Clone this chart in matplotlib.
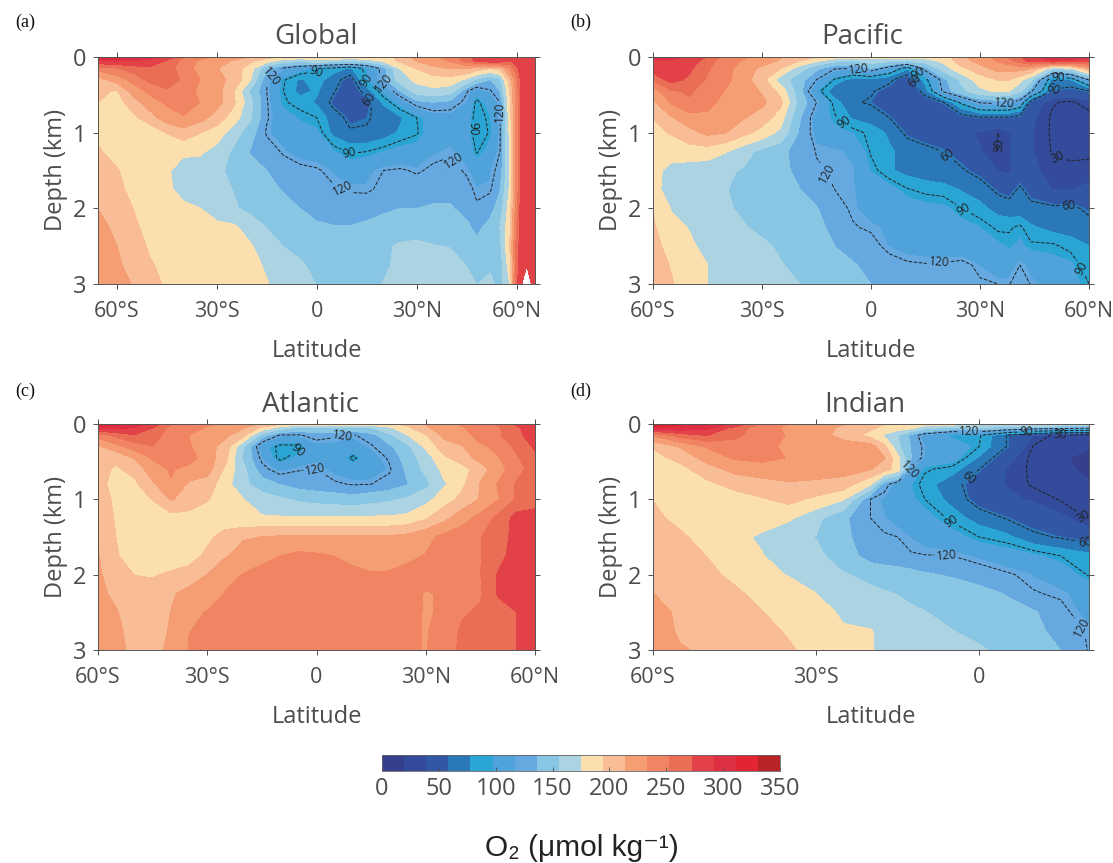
import matplotlib
matplotlib.use("Agg")
import matplotlib.pyplot as plt
import numpy as np
from matplotlib.colors import BoundaryNorm, ListedColormap
from matplotlib.cm import ScalarMappable

nan = np.nan
W, H = 1113, 863
GREY = "#4d4d4d"

depth = [0, 0.05, 0.15, 0.3, 0.45, 0.6, 0.8, 1, 1.25, 1.5, 1.75, 2, 2.25, 2.5, 2.75, 3]

lat_global = [-66, -60, -55, -50, -45, -40, -35, -30, -25, -20, -15, -10, -5, 0, 5, 10, 15, 20, 25, 30, 35, 40,
              45, 48, 52, 55, 58, 60, 61.5, 63, 64.5, 66]
o2_global = [
    [330, 320, 310, 298, 285, 255, 238, 232, 225, 212, 200, 190, 186, 186, 186, 186, 186, 186, 200, 220, 230, 240, 265, 280, 285, 285, 285, 285, 285, 285, 285, 285],
    [290, 292, 290, 285, 270, 245, 230, 222, 212, 198, 185, 165, 160, 168, 165, 160, 165, 178, 198, 215, 225, 235, 260, 275, 285, 285, 270, 285, 285, 285, 285, 285],
    [240, 250, 262, 268, 260, 245, 225, 215, 205, 185, 138, 118, 105, 92, 85, 75, 95, 128, 175, 195, 208, 215, 215, 205, 195, 200, 235, 265, 285, 285, 285, 285],
    [205, 222, 240, 258, 262, 250, 233, 218, 210, 176, 122, 92, 75, 85, 68, 50, 95, 128, 165, 180, 186, 186, 170, 150, 135, 150, 205, 245, 280, 290, 290, 290],
    [200, 192, 222, 238, 250, 245, 228, 222, 196, 152, 120, 90, 72, 80, 62, 45, 68, 100, 135, 165, 170, 165, 122, 105, 118, 135, 195, 240, 280, 290, 290, 290],
    [195, 185, 205, 225, 236, 240, 233, 222, 198, 162, 122, 92, 85, 75, 55, 45, 52, 80, 103, 130, 135, 130, 115, 85, 105, 120, 190, 240, 280, 290, 290, 290],
    [190, 180, 190, 205, 225, 232, 222, 205, 185, 158, 122, 105, 95, 90, 68, 55, 58, 66, 75, 90, 108, 110, 108, 80, 95, 120, 185, 240, 280, 288, 288, 288],
    [190, 180, 180, 182, 195, 205, 195, 185, 165, 145, 118, 110, 105, 100, 72, 62, 62, 68, 80, 88, 108, 112, 105, 78, 92, 118, 180, 240, 280, 285, 285, 285],
    [198, 185, 180, 180, 180, 178, 178, 168, 152, 135, 128, 118, 110, 108, 98, 88, 90, 97, 103, 105, 115, 118, 110, 88, 105, 120, 178, 240, 280, 285, 285, 285],
    [205, 196, 185, 180, 177, 168, 165, 160, 150, 142, 136, 128, 125, 122, 115, 108, 113, 120, 122, 118, 123, 125, 118, 110, 115, 125, 176, 240, 280, 285, 285, 285],
    [210, 200, 188, 182, 178, 170, 165, 160, 155, 146, 140, 135, 130, 126, 122, 119, 118, 123, 128, 128, 130, 130, 125, 117, 118, 135, 178, 240, 280, 285, 285, 285],
    [214, 205, 194, 186, 182, 178, 175, 165, 158, 150, 145, 140, 136, 132, 128, 125, 128, 133, 136, 136, 138, 138, 130, 122, 128, 145, 185, 245, 285, 285, 285, 285],
    [220, 210, 198, 188, 184, 182, 181, 180, 178, 167, 155, 148, 142, 138, 137, 137, 140, 143, 145, 150, 150, 148, 140, 130, 143, 155, 190, 250, 285, 285, 285, 285],
    [225, 214, 202, 192, 188, 186, 185, 184, 182, 177, 165, 155, 150, 145, 142, 142, 145, 152, 158, 158, 156, 155, 150, 142, 150, 150, 195, 260, 285, 285, 285, 285],
    [230, 218, 205, 196, 190, 187, 186, 185, 184, 182, 172, 164, 158, 150, 146, 146, 150, 152, 160, 160, 160, 160, 155, 148, 152, 145, 185, 260, 285, 285, 285, 285],
    [232, 224, 212, 200, 192, 188, 186, 186, 185, 184, 176, 168, 162, 155, 150, 148, 152, 156, 160, 165, 168, 162, 160, 155, 160, 150, 175, 270, 285, nan, 285, 285],
]

lat_pacific = [-60, -55, -50, -45, -40, -35, -30, -25, -20, -15, -10, -5, 0, 5, 10, 15, 20, 25, 30, 35, 38, 41, 44, 50, 55, 60]
o2_pacific = [
    [295, 295, 290, 270, 245, 235, 225, 215, 205, 195, 186, 182, 182, 182, 182, 182, 185, 210, 225, 240, 255, 270, 290, 300, 300, 295],
    [290, 290, 285, 262, 240, 232, 222, 212, 195, 178, 160, 155, 165, 160, 155, 165, 180, 205, 222, 235, 245, 262, 278, 290, 285, 280],
    [285, 290, 276, 255, 240, 222, 210, 195, 165, 140, 122, 120, 135, 110, 80, 130, 165, 190, 205, 222, 222, 222, 215, 160, 170, 215],
    [255, 280, 268, 250, 238, 222, 200, 165, 145, 120, 88, 70, 72, 65, 45, 85, 130, 160, 185, 195, 195, 180, 160, 70, 78, 122],
    [222, 250, 255, 245, 232, 222, 212, 188, 145, 98, 65, 60, 62, 52, 36, 70, 125, 150, 170, 178, 175, 160, 125, 58, 50, 60],
    [210, 235, 250, 238, 228, 222, 218, 200, 150, 120, 85, 62, 58, 46, 44, 47, 60, 95, 122, 125, 122, 110, 50, 31, 28, 35],
    [195, 212, 225, 230, 222, 215, 205, 185, 140, 110, 92, 75, 70, 60, 45, 42, 42, 52, 58, 58, 58, 52, 42, 28, 24, 26],
    [188, 196, 208, 218, 214, 200, 187, 170, 135, 112, 102, 96, 86, 75, 55, 48, 42, 42, 37, 30, 38, 42, 40, 28, 28, 28],
    [180, 182, 185, 185, 176, 162, 150, 142, 128, 119.5, 118, 115, 88, 80, 72, 66, 60, 50, 40, 29, 38, 44, 40, 29, 28, 28],
    [180, 170, 166, 163, 158, 154, 148, 141, 132, 121, 119, 117, 96, 80, 72, 68, 64, 62, 52, 38, 36, 47, 42, 34, 32, 33],
    [180, 168, 160, 158, 156, 152, 146, 142, 137, 126, 120, 117, 112, 103, 91, 86, 84, 76, 70, 55, 52, 63, 52, 38, 38, 42],
    [193, 174, 168, 160, 158, 152, 148, 143, 139, 137, 125, 118, 112, 108, 105, 102, 100, 90, 82, 72, 68, 65, 65, 64, 64, 56],
    [197, 180, 174, 165, 160, 157, 150, 148, 143, 140, 132, 121, 118, 115, 110, 108, 106, 103, 97, 87, 88, 93, 80, 72, 70, 66],
    [200, 188, 178, 170, 165, 162, 160, 152, 148, 142, 136, 128, 125, 116, 112, 110, 108, 105, 103, 100, 95, 100, 93, 93, 85, 78],
    [204, 193, 182, 175, 170, 165, 162, 157, 150, 148, 140, 138, 130, 126, 122, 121, 122, 125, 116, 106, 110, 120, 112, 102, 100, 80],
    [208, 196, 185, 175, 170, 165, 160, 158, 156, 150, 145, 140, 136, 130, 128, 128, 128, 126, 122, 120, 119, 132, 119, 112, 104, 90],
]

lat_atlantic = [-60, -55, -50, -45, -40, -35, -30, -25, -20, -15, -10, -5, 0, 5, 10, 15, 20, 25, 30, 35, 40, 45, 50, 55, 60]
o2_atlantic = [
    [335, 320, 302, 285, 255, 240, 235, 232, 225, 210, 195, 185, 183, 183, 183, 185, 190, 200, 215, 228, 235, 245, 255, 275, 285],
    [295, 295, 290, 272, 245, 238, 232, 226, 215, 190, 165, 150, 155, 155, 150, 155, 170, 190, 210, 225, 232, 240, 250, 270, 280],
    [240, 258, 270, 260, 245, 233, 226, 218, 198, 145, 118, 118, 126, 122, 118, 128, 150, 174, 192, 218, 226, 240, 250, 268, 280],
    [210, 226, 242, 252, 240, 235, 222, 205, 155, 105, 85, 86, 112, 112, 110, 118, 132, 150, 178, 205, 212, 230, 238, 258, 275],
    [195, 198, 215, 235, 245, 240, 225, 200, 150, 116, 84, 102, 114, 112, 85, 110, 122, 145, 165, 190, 205, 220, 232, 250, 268],
    [200, 192, 200, 225, 235, 228, 222, 190, 160, 125, 112, 119, 120, 113, 108, 108, 118, 140, 160, 180, 186, 205, 225, 245, 262],
    [200, 188, 190, 210, 232, 210, 205, 182, 160, 145, 135, 128, 125, 122, 119, 120, 125, 135, 150, 172, 190, 215, 235, 255, 262],
    [205, 190, 183, 195, 215, 208, 196, 182, 175, 165, 158, 152, 148, 146, 143, 148, 152, 158, 168, 185, 200, 215, 232, 255, 262],
    [208, 192, 178, 178, 186, 185, 180, 177, 177, 177, 177, 177, 178, 178, 178, 178, 178, 180, 192, 208, 225, 240, 258, 280, 282],
    [210, 194, 178, 178, 178, 182, 188, 205, 212, 214, 216, 216, 216, 216, 216, 216, 216, 220, 228, 238, 245, 252, 262, 280, 285],
    [215, 197, 179, 178, 178, 182, 200, 212, 222, 229, 233, 238, 236, 233, 228, 222, 222, 230, 234, 238, 245, 252, 265, 282, 285],
    [216, 206, 194, 192, 198, 206, 214, 228, 234, 238, 240, 240, 240, 240, 238, 235, 236, 238, 240, 240, 245, 252, 274, 282, 285],
    [218, 210, 202, 205, 212, 218, 226, 234, 238, 240, 240, 240, 240, 240, 240, 240, 240, 240, 232, 235, 238, 250, 275, 280, 285],
    [220, 215, 204, 205, 214, 230, 234, 238, 240, 240, 240, 240, 240, 240, 240, 240, 240, 238, 232, 235, 250, 256, 262, 272, 285],
    [222, 218, 207, 204, 216, 233, 236, 238, 240, 240, 240, 240, 240, 240, 240, 240, 240, 238, 232, 240, 256, 258, 260, 272, 285],
    [224, 220, 208, 205, 220, 234, 236, 238, 240, 240, 240, 240, 240, 240, 240, 240, 240, 238, 232, 245, 256, 258, 260, 272, 285],
]

lat_indian = [-60, -55, -50, -45, -40, -35, -30, -25, -20, -17.5, -15, -12.5, -10, -5, 0, 5, 10, 15, 20.2]
o2_indian = [
    [340, 315, 302, 288, 250, 232, 228, 215, 205, 195, 190, 186, 184, 182, 180, 178, 178, 178, 178],
    [300, 305, 295, 265, 240, 230, 222, 210, 198, 190, 185, 180, 160, 150, 150, 145, 135, 130, 125],
    [235, 260, 272, 258, 240, 232, 225, 205, 188, 172, 155, 130, 110, 92, 92, 60, 38, 25, 24],
    [196, 215, 235, 242, 238, 230, 228, 225, 222, 200, 160, 135, 116, 112, 90, 60, 29, 22, 20],
    [188, 200, 222, 235, 240, 232, 226, 224, 222, 215, 180, 135, 115, 105, 75, 45, 26, 20, 18],
    [186, 188, 205, 220, 222, 222, 222, 222, 215, 205, 185, 118, 92, 85, 60, 38, 27, 21, 18],
    [183, 183, 190, 200, 208, 212, 210, 205, 176, 126, 110, 97, 85, 66, 50, 38, 28, 22, 20],
    [194, 182, 182, 186, 192, 200, 190, 176, 120, 115, 108, 100, 90, 72, 50, 42, 37, 29, 24],
    [198, 190, 180, 180, 184, 178, 160, 140, 120, 117, 113, 110, 105, 86, 70, 59, 50, 42, 29],
    [206, 197, 188, 180, 172, 160, 155, 142, 122, 121, 120, 116, 112, 105, 90, 82, 64, 58, 50],
    [210, 200, 194, 186, 176, 165, 160, 146, 128, 124, 122, 121, 120.5, 120, 114, 108, 100, 90, 82],
    [212, 206, 198, 191, 180, 174, 165, 157, 150, 148, 146, 142, 138, 134, 128, 122, 116, 110, 88],
    [214, 208, 202, 197, 190, 182, 175, 166, 160, 157, 155, 152, 150, 146, 142, 135, 121, 118, 112],
    [222, 210, 204, 200, 195, 188, 182, 172, 166, 163, 160, 158, 156, 150, 146, 142, 138, 124, 112],
    [228, 210, 206, 202, 198, 193, 185, 177, 176, 170, 166, 164, 160, 156, 150, 146, 141, 130, 118],
    [232, 216, 210, 206, 202, 196, 190, 180, 176, 172, 170, 168, 166, 162, 158, 150, 142, 136, 119],
]

colours = ["#363f8e", "#344a9a", "#3258a5", "#2b78b8", "#2aa5d3", "#4fa3da", "#66a9e0", "#88c6e3", "#abd3e2",
           "#fbdfae", "#f8bd96", "#f59d73", "#f18563", "#e96e55", "#e24148", "#de2f44", "#e22533", "#b82328"]
levels = np.linspace(0, 350, 19)
cmap = ListedColormap(colours)
norm = BoundaryNorm(levels, cmap.N)
line_levels = [30, 60, 90, 120]

# where the contour labels sit, lat/depth
labels_global = [(-13, 0.29), (0, 0.27), (15, 0.3), (19.4, 0.38), (16, 0.55), (9.8, 1.27), (7.7, 1.74), (41, 1.37), (54, 0.73), (48, 0.95)]
labels_pacific = [(-3.3, 0.155), (13, 0.22), (12.2, 0.31), (36.5, 0.55), (51.4, 0.27), (49.5, 0.41), (-7.3, 0.86), (-12.9, 1.55),
                  (21.5, 1.27), (35, 1.17), (51.4, 1.33), (54.5, 2.03), (25.7, 1.99), (18.6, 2.65), (58, 2.79)]
labels_atlantic = [(7.3, 0.19), (-0.5, 0.51), (-4.7, 0.39)]
labels_indian = [(8.6, 0.09), (14.9, 0.14), (-1.8, 0.18), (-13.1, 0.59), (-1.9, 0.72), (-5.4, 1.33), (-6, 1.73), (19, 1.25), (19.3, 1.65), (18, 2.75)]

plt.rcParams["font.family"] = ["Open Sans", "DejaVu Sans"]
fig = plt.figure(figsize=(W / 100, H / 100), dpi=100)


def panel(box, lat, o2, title, title_x, letter, letter_y, xlim, xticks, xlabels, label_pos):
    left, top, right, bottom = box
    ax = fig.add_axes([left / W, 1 - bottom / H, (right - left) / W, (bottom - top) / H])
    z = np.array(o2, dtype=float)
    filled = ax.contourf(lat, depth, z, levels=levels, cmap=cmap, norm=norm)
    filled.set_edgecolor("face")
    filled.set_linewidth(0.3)
    lines = ax.contour(lat, depth, z, levels=line_levels, colors="#222222", linestyles="--", linewidths=0.7)
    ax.clabel(lines, fmt="%d", fontsize=8.5, inline=True, inline_spacing=2, manual=label_pos)
    ax.set_xlim(*xlim)
    ax.set_ylim(3, 0)
    ax.set_xticks(xticks, xlabels)
    ax.set_yticks([0, 1, 2, 3], ["0", "1", "2", "3"])
    ax.tick_params(direction="out", length=3.5, width=0.7, color=GREY, labelcolor=GREY, top=True, right=True)
    ax.tick_params(axis="x", pad=9, labelsize=15.5)
    ax.tick_params(axis="y", pad=5, labelsize=17)
    for s in ax.spines.values():
        s.set_linewidth(0.7)
        s.set_color("#555555")
    ax.set_xlabel("Latitude", fontsize=17, color=GREY, labelpad=12)
    ax.set_ylabel("Depth (km)", fontsize=17, color=GREY, labelpad=3)
    ax.set_title(title, fontsize=20, color=GREY, pad=9, x=title_x)
    fig.text((left - 83) / W, 1 - letter_y / H, letter, fontsize=13, family="Liberation Serif", color="#111111",
             ha="left", va="center")
    return ax


ticks_full = [-60, -30, 0, 30, 60]
names_full = ["60°S", "30°S", "0", "30°N", "60°N"]
panel((98, 57, 535, 284), lat_global, o2_global, "Global", 0.5, "(a)", 22, (-65.6, 65.5), ticks_full, names_full, labels_global)
panel((653, 57, 1089, 284), lat_pacific, o2_pacific, "Pacific", 0.479, "(b)", 22, (-60, 60), ticks_full, names_full, labels_pacific)
panel((98, 424, 535, 650), lat_atlantic, o2_atlantic, "Atlantic", 0.487, "(c)", 391, (-60, 60), ticks_full, names_full, labels_atlantic)
panel((653, 424, 1089, 650), lat_indian, o2_indian, "Indian", 0.486, "(d)", 391, (-60, 20.2), [-60, -30, 0], ["60°S", "30°S", "0"], labels_indian)

cax = fig.add_axes([382 / W, 1 - 771 / H, 398 / W, 16 / H])
cb = fig.colorbar(ScalarMappable(norm=norm, cmap=cmap), cax=cax, orientation="horizontal",
                  ticks=[0, 50, 100, 150, 200, 250, 300, 350], spacing="proportional", drawedges=False)
cb.ax.tick_params(direction="in", length=3, width=0.6, color=GREY, labelcolor=GREY, labelsize=17, pad=4)
cb.ax.minorticks_off()
cb.outline.set_linewidth(0.6)
cb.outline.set_edgecolor("#666666")

fig.text(582 / W, 1 - 848 / H, "O₂ (μmol kg⁻¹)", fontsize=21.5, family=["Liberation Sans", "DejaVu Sans"],
         color="#222222", ha="center", va="center")

fig.savefig("out.png", dpi=100)
